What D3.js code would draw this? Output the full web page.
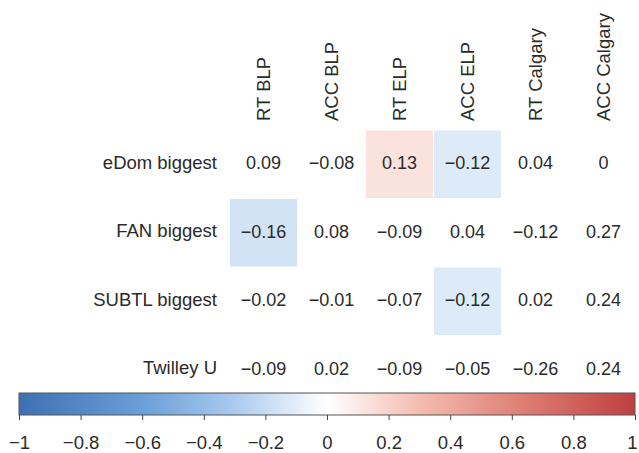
<!DOCTYPE html>
<html>
<head>
<meta charset="utf-8">
<script src="https://cdn.jsdelivr.net/npm/d3@7"></script>
<style>
  html, body { margin: 0; padding: 0; background: #fff; }
  svg { display: block; }
  text { font-family: "Liberation Sans", Arial, sans-serif; fill: #2a2a2a; }
</style>
</head>
<body>
<svg id="chart" width="639" height="453"></svg>
<script>
// Correlation table: predictors (rows) vs. behavioural measures (columns)
const rowLabels = ["eDom biggest", "FAN biggest", "SUBTL biggest", "Twilley U"];
const colLabels = ["RT BLP", "ACC BLP", "RT ELP", "ACC ELP", "RT Calgary", "ACC Calgary"];

const eDomValues  = [0.09, -0.08, 0.13, -0.12, 0.04, 0];
const fanValues   = [-0.16, 0.08, -0.09, 0.04, -0.12, 0.27];
const subtlValues = [-0.02, -0.01, -0.07, -0.12, 0.02, 0.24];
const twilleyValues = [-0.09, 0.02, -0.09, -0.05, -0.26, 0.24];

// 1 = cell is shaded with its correlation colour, 0 = left blank
const eDomShaded  = [0, 0, 1, 1, 0, 0];
const fanShaded   = [1, 0, 0, 0, 0, 0];
const subtlShaded = [0, 0, 0, 1, 0, 0];
const twilleyShaded = [0, 0, 0, 0, 0, 0];

const legendTicks = [-1, -0.8, -0.6, -0.4, -0.2, 0, 0.2, 0.4, 0.6, 0.8, 1];

const valueRows = [eDomValues, fanValues, subtlValues, twilleyValues];
const shadedRows = [eDomShaded, fanShaded, subtlShaded, twilleyShaded];

const cells = [];
rowLabels.forEach((r, i) => colLabels.forEach((c, j) => {
  cells.push({ row: r, col: c, value: valueRows[i][j], shaded: shadedRows[i][j] === 1 });
}));

const svg = d3.select("#chart");

const x = d3.scaleBand().domain(colLabels).range([229.5, 637.5]);
const y = d3.scaleBand().domain(rowLabels).range([130, 404]);

// Diverging blue-white-red palette
const color = d3.scaleLinear()
  .domain([-1, -0.6, -0.3, 0, 0.3, 0.6, 1])
  .range(["#3d70b1", "#6a9fd8", "#abcaee", "#ffffff", "#f4bcb0", "#e0857a", "#bf3f3f"])
  .interpolate(d3.interpolateRgb);

const fmt = d3.format("~g");

// cells
svg.append("g").selectAll("rect")
  .data(cells.filter(d => d.shaded))
  .join("rect")
  .attr("x", d => x(d.col))
  .attr("y", d => y(d.row))
  .attr("width", x.bandwidth())
  .attr("height", y.bandwidth())
  .attr("fill", d => color(d.value))
  .attr("stroke", "#fff")
  .attr("stroke-width", 1);

// cell values
svg.append("g").selectAll("text")
  .data(cells)
  .join("text")
  .attr("x", d => x(d.col) + x.bandwidth() / 2)
  .attr("y", d => y(d.row) + y.bandwidth() / 2 - 1)
  .attr("text-anchor", "middle")
  .attr("dominant-baseline", "central")
  .style("font-size", "18px")
  .text(d => fmt(d.value));

// row labels
svg.append("g").selectAll("text")
  .data(rowLabels)
  .join("text")
  .attr("x", 217)
  .attr("y", d => y(d) + y.bandwidth() / 2 - 2)
  .attr("text-anchor", "end")
  .attr("dominant-baseline", "central")
  .style("font-size", "18.5px")
  .text(d => d);

// column labels (vertical)
svg.append("g").selectAll("text")
  .data(colLabels)
  .join("text")
  .attr("transform", d => `translate(${x(d) + x.bandwidth() / 2},121) rotate(-90)`)
  .attr("text-anchor", "start")
  .attr("dominant-baseline", "central")
  .style("font-size", "18.5px")
  .text(d => d);

// colour legend
const lx = d3.scaleLinear().domain([-1, 1]).range([19, 635]);
const barTop = 393, barH = 22;

const grad = svg.append("defs").append("linearGradient")
  .attr("id", "corrGrad")
  .attr("x1", "0%").attr("x2", "100%").attr("y1", "0%").attr("y2", "0%");
grad.selectAll("stop")
  .data(d3.range(0, 1.0001, 0.05))
  .join("stop")
  .attr("offset", d => `${d * 100}%`)
  .attr("stop-color", d => color(-1 + 2 * d));

svg.append("rect")
  .attr("x", lx(-1))
  .attr("y", barTop)
  .attr("width", lx(1) - lx(-1))
  .attr("height", barH)
  .attr("fill", "url(#corrGrad)")
  .attr("stroke", "#555")
  .attr("stroke-width", 1);

const axis = svg.append("g")
  .attr("transform", `translate(0,${barTop + barH})`)
  .call(d3.axisBottom(lx).tickValues(legendTicks).tickFormat(fmt).tickSize(5).tickPadding(16));
axis.select(".domain").remove();
axis.selectAll(".tick line").attr("stroke", "#444");
axis.selectAll(".tick text")
  .style("font-size", "18.5px")
  .style("font-family", "'Liberation Sans', Arial, sans-serif")
  .attr("fill", "#2a2a2a")
  .attr("dx", d => (d === 1 ? -3 : 0));
</script>
</body>
</html>
